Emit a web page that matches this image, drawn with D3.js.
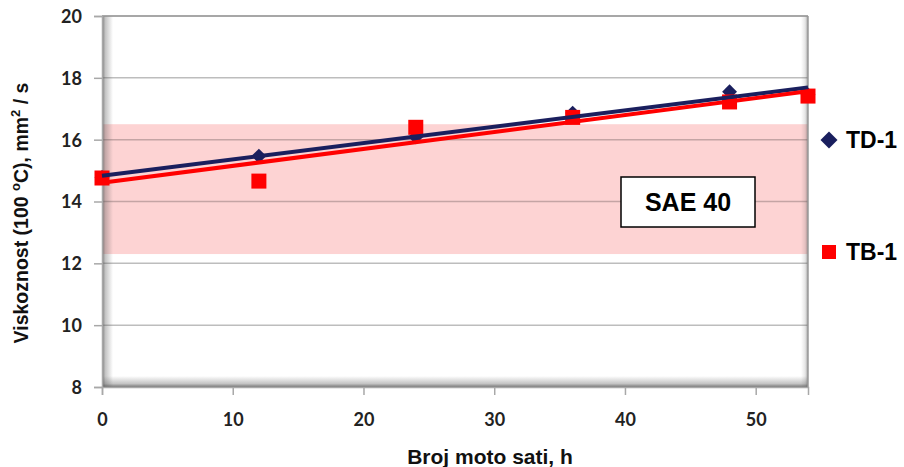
<!DOCTYPE html>
<html>
<head>
<meta charset="utf-8">
<script src="https://cdn.jsdelivr.net/npm/d3@7"></script>
<style>
  html, body { margin: 0; padding: 0; background: #fff; }
  svg { display: block; }
</style>
</head>
<body>
<svg id="chart" width="904" height="467"></svg>
<script>
// Operating hours at which samples were taken
const hours = [0, 12, 24, 36, 48, 54];
// Kinematic viscosity at 100 °C, mm²/s
const td1 = [14.78, 15.47, 16.09, 16.86, 17.55, 17.45];
const tb1 = [14.76, 14.66, 16.40, 16.72, 17.22, 17.41];
const seriesNames = ["TD-1", "TB-1"];
// SAE 40 viscosity grade band
const saeBand = [12.3, 16.5];
const saeLabel = "SAE 40";
const xTicks = [0, 10, 20, 30, 40, 50];
const yTicks = [8, 10, 12, 14, 16, 18, 20];
const xTitle = "Broj moto sati, h";

const svg = d3.select("#chart");
const m = { left: 102, right: 96, top: 16, bottom: 80 };
const W = 904, H = 467;
const x = d3.scaleLinear().domain([0, 54]).range([m.left, W - m.right]);
const y = d3.scaleLinear().domain([8, 20]).range([H - m.bottom, m.top]);
const x0 = x(0), x1 = x(54), yTop = y(20), yBot = y(8);

const defs = svg.append("defs");
function grad(id, x1_, y1_, x2_, y2_, stops) {
  const g = defs.append("linearGradient").attr("id", id)
    .attr("x1", x1_).attr("y1", y1_).attr("x2", x2_).attr("y2", y2_);
  stops.forEach(s => g.append("stop").attr("offset", s[0]).attr("stop-color", "#555").attr("stop-opacity", s[1]));
}
grad("shL", 0, 0, 1, 0, [[0, 0.8], [0.3, 0.35], [1, 0]]);
grad("shB", 0, 1, 0, 0, [[0, 0.8], [0.3, 0.35], [1, 0]]);
grad("shR", 1, 0, 0, 0, [[0, 0.55], [0.4, 0.15], [1, 0]]);

// plot area background
svg.append("rect").attr("x", x0).attr("y", yTop).attr("width", x1 - x0).attr("height", yBot - yTop).attr("fill", "#fff");

// SAE grade band
svg.append("rect")
  .attr("x", x0).attr("width", x1 - x0)
  .attr("y", y(saeBand[1])).attr("height", y(saeBand[0]) - y(saeBand[1]))
  .attr("fill", "#fdd3d3");

// horizontal gridlines
svg.append("g").selectAll("line").data(yTicks.slice(1)).join("line")
  .attr("x1", x0).attr("x2", x1)
  .attr("y1", d => y(d)).attr("y2", d => y(d))
  .attr("stroke", d => (d > saeBand[0] && d < saeBand[1]) ? "#c4a4a4" : "#bdbdbd")
  .attr("stroke-width", 1.5);

// inner shading of the plot frame
svg.append("rect").attr("x", x0).attr("y", yTop).attr("width", 11).attr("height", yBot - yTop).attr("fill", "url(#shL)");
svg.append("rect").attr("x", x0).attr("y", yBot - 11).attr("width", x1 - x0).attr("height", 11).attr("fill", "url(#shB)");
svg.append("rect").attr("x", x1 - 7).attr("y", yTop).attr("width", 7).attr("height", yBot - yTop).attr("fill", "url(#shR)");
svg.append("line").attr("x1", x0).attr("x2", x1).attr("y1", yTop).attr("y2", yTop).attr("stroke", "#9a9a9a").attr("stroke-width", 1.5);
svg.append("line").attr("x1", x1).attr("x2", x1).attr("y1", yTop).attr("y2", yBot).attr("stroke", "#9a9a9a").attr("stroke-width", 1.5);

// axes
const yAxis = d3.axisLeft(y).tickValues(yTicks).tickSize(8).tickPadding(12);
const xAxis = d3.axisBottom(x).tickValues(xTicks).tickSize(8).tickPadding(18);
const gy = svg.append("g").attr("transform", `translate(${x0},0)`).call(yAxis);
const gx = svg.append("g").attr("transform", `translate(0,${yBot})`).call(xAxis);
[gx, gy].forEach(g => {
  g.select(".domain").attr("stroke", "#a8a8a8").attr("stroke-width", 1.5);
  g.selectAll(".tick line").attr("stroke", "#a8a8a8").attr("stroke-width", 1.5);
  g.selectAll(".tick text")
    .attr("font-family", "Lato, 'Liberation Sans', Arial, sans-serif")
    .attr("font-weight", "bold").attr("font-size", 18).attr("fill", "#222");
});
gy.selectAll(".tick text").attr("dy", "0.36em");

// axis titles
svg.append("text").attr("x", 490).attr("y", 464).attr("text-anchor", "middle")
  .attr("font-family", "'Liberation Sans', Arial, sans-serif").attr("font-weight", "bold")
  .attr("font-size", 21).attr("fill", "#111").text(xTitle);
const yt = svg.append("text")
  .attr("transform", "translate(28,213) rotate(-90)").attr("text-anchor", "middle")
  .attr("font-family", "'Liberation Sans', Arial, sans-serif").attr("font-weight", "bold")
  .attr("font-size", 19.5).attr("fill", "#111");
yt.append("tspan").text("Viskoznost (100 ");
yt.append("tspan").attr("dy", -8).attr("font-size", 13).text("o");
yt.append("tspan").attr("dy", 8).text("C), mm");
yt.append("tspan").attr("dy", -8).attr("font-size", 13).text("2");
yt.append("tspan").attr("dy", 8).text(" / s");

// least-squares linear trend
function linFit(xs, ys) {
  const mx = d3.mean(xs), my = d3.mean(ys);
  const sxy = d3.sum(xs, (v, i) => (v - mx) * (ys[i] - my));
  const sxx = d3.sum(xs, v => (v - mx) * (v - mx));
  const b = sxy / sxx;
  return t => my + b * (t - mx);
}

const navy = "#1a1f5e", red = "#ff0000";
const plot = svg.append("g");

// markers: diamonds are squares turned by 45°
const dSide = 10.5;
plot.append("g").selectAll("rect").data(hours).join("rect")
  .attr("x", -dSide / 2).attr("y", -dSide / 2).attr("width", dSide).attr("height", dSide)
  .attr("transform", (d, i) => `translate(${x(d)},${y(td1[i])}) rotate(45)`)
  .attr("fill", navy);
const sq = 15;
plot.append("g").selectAll("rect").data(hours).join("rect")
  .attr("x", d => x(d) - sq / 2).attr("y", (d, i) => y(tb1[i]) - sq / 2)
  .attr("width", sq).attr("height", sq).attr("fill", red);

// trendlines
[[td1, navy], [tb1, red]].forEach(([vals, col]) => {
  const f = linFit(hours, vals);
  plot.append("line")
    .attr("x1", x(0)).attr("y1", y(f(0)))
    .attr("x2", x(54)).attr("y2", y(f(54)))
    .attr("stroke", col).attr("stroke-width", 4);
});

// grade label
const bx = 621, by = 177, bw = 134, bh = 50;
svg.append("rect").attr("x", bx).attr("y", by).attr("width", bw).attr("height", bh)
  .attr("fill", "#fff").attr("stroke", "#000").attr("stroke-width", 1.5);
svg.append("text").attr("x", bx + bw / 2).attr("y", by + bh / 2).attr("dy", "0.36em")
  .attr("text-anchor", "middle")
  .attr("font-family", "'Liberation Sans', Arial, sans-serif").attr("font-weight", "bold")
  .attr("font-size", 25).attr("fill", "#000").text(saeLabel);

// legend
const lg = svg.append("g").attr("font-family", "'Liberation Sans', Arial, sans-serif")
  .attr("font-weight", "bold").attr("font-size", 23).attr("fill", "#000");
lg.append("rect").attr("x", -6).attr("y", -6).attr("width", 12).attr("height", 12)
  .attr("transform", "translate(829,140) rotate(45)").attr("fill", navy);
lg.append("text").attr("x", 846).attr("y", 140).attr("dy", "0.36em").text(seriesNames[0]);
lg.append("rect").attr("x", 822).attr("y", 245).attr("width", 14).attr("height", 14).attr("fill", red);
lg.append("text").attr("x", 846).attr("y", 252).attr("dy", "0.36em").text(seriesNames[1]);
</script>
</body>
</html>
